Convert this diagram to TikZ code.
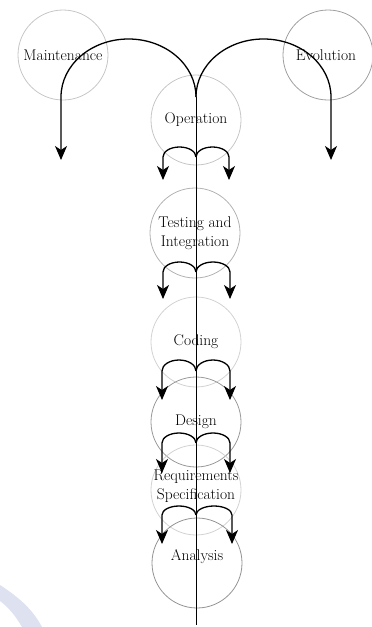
\documentclass[tikz,border=0pt]{standalone}
\usepackage{tikz}
\usetikzlibrary{arrows.meta}
\definecolor{swoosh}{RGB}{222,226,240}
\tikzset{
  ring/.style={circle, draw=#1, line width=0.8pt, minimum size=90pt, inner sep=0pt},
  ring/.default=gray!45,
  lbl/.style={align=center, text=black, font=\fontsize{15.5}{19}\selectfont},
  flow/.style={line width=1.3pt, -{Stealth[length=14pt,width=12pt,inset=4pt]}},
}

\begin{document}
\begin{tikzpicture}[x=1pt,y=-1pt]
    \useasboundingbox (0,0) rectangle (372,627);

    %%% faint swoosh in the corner %%%
    \fill[swoosh] (0,585) .. controls (20,598) and (33,610) .. (42,627) -- (22,627) .. controls (15,615) and (8,607) .. (0,601) -- cycle;

    %%% Stages %%%
    \node[ring]          (maint)  at (63,55)   {};  \node[lbl] (maintT)  at (maint)  {Maintenance};
    \node[ring=gray!75]  (evol)   at (328,55)  {};  \node[lbl] (evolT)   at (326,55) {Evolution};
    \node[ring]          (oper)   at (196,120) {};  \node[lbl] (operT)   at (oper)   {Operation};
    \node[ring=gray!60]  (test)   at (195,233) {};  \node[lbl] (testT)   at (test)   {Testing and\\Integration};
    \node[ring=gray!35]  (code)   at (196,342) {};  \node[lbl] (codeT)   at (code)   {Coding};
    \node[ring=gray!80]  (design) at (196,422) {};  \node[lbl] (designT) at (design) {Design};
    \node[ring=gray!35]  (req)    at (196,490) {};  \node[lbl] (reqT)    at (196,486) {Requirements\\Specification};
    \node[ring=gray!85]  (anal)   at (197,563) {};  \node[lbl] (analT)   at (197,557) {Analysis};

    %%% Trunk %%%
    \coordinate (top) at (196,97);
    \coordinate (bot) at (196,625);
    \draw[line width=1pt] (top) -- (bot);

    %%% Big branches %%%
    \draw[flow] (top) arc[start angle=0, end angle=-180, x radius=67.5, y radius=58] -- ++(0,63);
    \draw[flow] (top) arc[start angle=180, end angle=360, x radius=67.5, y radius=58] -- ++(0,63);

    %%% Small branches %%%
    \coordinate (j1) at (196,157);
    \draw[flow] (j1) arc[start angle=0, end angle=-180, x radius=16.5, y radius=10] -- ++(0,23);
    \draw[flow] (j1) arc[start angle=180, end angle=360, x radius=16.5, y radius=10] -- ++(0,23);

    \coordinate (j2) at (196,272);
    \draw[flow] (j2) arc[start angle=0, end angle=-180, x radius=16.5, y radius=10] -- ++(0,27);
    \draw[flow] (j2) arc[start angle=180, end angle=360, x radius=17, y radius=10] -- ++(0,27);

    \coordinate (j3) at (196,371);
    \draw[flow] (j3) arc[start angle=0, end angle=-180, x radius=17, y radius=11] -- ++(0,29);
    \draw[flow] (j3) arc[start angle=180, end angle=360, x radius=17, y radius=11] -- ++(0,29);

    \coordinate (j4) at (196,443);
    \draw[flow] (j4) arc[start angle=0, end angle=-180, x radius=17, y radius=10] -- ++(0,30);
    \draw[flow] (j4) arc[start angle=180, end angle=360, x radius=17, y radius=10] -- ++(0,30);

    \coordinate (j5) at (196,515);
    \draw[flow] (j5) arc[start angle=0, end angle=-180, x radius=17, y radius=9] -- ++(0,29);
    \draw[flow] (j5) arc[start angle=180, end angle=360, x radius=18, y radius=9] -- ++(0,29);

\end{tikzpicture}
\end{document}
